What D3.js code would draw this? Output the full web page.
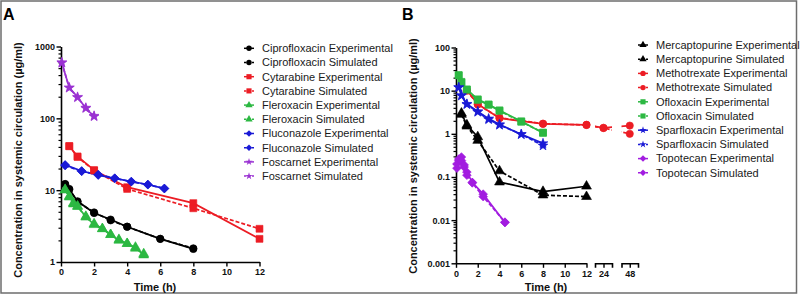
<!DOCTYPE html>
<html>
<head>
<meta charset="utf-8">
<script src="https://cdn.jsdelivr.net/npm/d3@7"></script>
<style>
  body { margin: 0; background: #fff; }
  svg { display: block; }
</style>
</head>
<body>
<script>
const width = 800;
const height = 296;

const black = "#000000";
const red = "#ec1c24";
const green = "#2cb842";
const blue = "#1a1ad6";
const purpleA = "#9a32d2";
const purpleB = "#a21ce0";

// ---- Panel A data ----
const cipTime = [0.25, 0.5, 1, 2, 3, 4, 6, 8];
const cipExp = [12, 10.4, 7, 4.8, 3.9, 3.1, 2.1, 1.52];
const cipSim = [12.2, 10.2, 6.9, 4.9, 3.8, 3.1, 2.1, 1.55];
const cytTime = [0.5, 1, 2, 4, 8, 12];
const cytExp = [41, 29.5, 19, 11, 6.6, 2.1];
const cytSim = [41, 29, 18.8, 10.4, 5.6, 2.9];
const fleTime = [0.25, 0.5, 0.75, 1, 1.5, 2, 2.5, 3, 3.5, 4, 4.5, 5];
const fleExp = [10.2, 8.2, 6.6, 5.9, 4.3, 3.3, 2.9, 2.4, 2.0, 1.8, 1.6, 1.25];
const fleSim = [10, 8, 6.4, 6.0, 4.2, 3.4, 2.9, 2.4, 2.05, 1.8, 1.55, 1.3];
const fluTime = [0.25, 1.25, 2.25, 3.25, 4.25, 5.25, 6.25];
const fluExp = [22.5, 18.5, 16.2, 14.6, 13.2, 12, 10.5];
const fluSim = [22, 18.3, 16.5, 14.7, 13.1, 11.9, 10.6];
const fosTime = [0.05, 0.5, 1, 1.5, 2];
const fosExp = [590, 268, 198, 138, 106];
const fosSim = [600, 265, 195, 140, 108];

// ---- Panel B data ----
const merTime = [0.5, 1, 2, 4, 8, 12];
const merExp = [3.0, 1.6, 0.85, 0.076, 0.046, 0.061];
const merSim = [2.8, 1.5, 0.7, 0.138, 0.038, 0.035];
const metTime = [1, 2, 4, 8, 12, 24, 48];
const metExp = [10.2, 4.9, 2.3, 1.7, 1.62, 1.38, 1.55];
const metSim = [10, 4.8, 2.35, 1.72, 1.6, 1.36, 1.0];
const oflTime = [0.25, 0.5, 1, 2, 3, 4, 6, 8];
const oflExp = [23, 16, 10.7, 6.3, 4.8, 3.5, 1.95, 1.05];
const oflSim = [22.5, 15.5, 10.5, 6.1, 4.7, 3.4, 1.9, 1.07];
const spaTime = [0.25, 0.5, 1, 2, 3, 4, 6, 8];
const spaExp = [12, 7.8, 4.9, 3.3, 2.25, 1.65, 0.97, 0.6];
const spaSim = [11.8, 7.6, 4.8, 3.2, 2.15, 1.6, 0.98, 0.53];
const topTime = [0.083, 0.25, 0.5, 0.75, 1, 1.5, 2.5, 4.5];
const topExp = [0.16, 0.24, 0.29, 0.17, 0.13, 0.075, 0.04, 0.0088];
const topSim = [0.2, 0.26, 0.24, 0.19, 0.11, 0.073, 0.035, 0.009];

const xTicksA = [0, 2, 4, 6, 8, 10, 12];
const yTicksA = [1, 10, 100, 1000];
const xTicksB = [0, 2, 4, 6, 8, 10, 12];
const xBreakTicksB = [24, 48];
const yTicksB = [0.001, 0.01, 0.1, 1, 10, 100];

function zip(t, v) { return t.map((d, i) => ({ t: d, v: v[i] })); }

const seriesA = [
  { name: "Ciprofloxacin Experimental", color: black, shape: "circle", dash: false, data: zip(cipTime, cipExp) },
  { name: "Ciprofloxacin Simulated", color: black, shape: "circle", dash: true, data: zip(cipTime, cipSim) },
  { name: "Cytarabine Experimental", color: red, shape: "square", dash: false, data: zip(cytTime, cytExp) },
  { name: "Cytarabine Simulated", color: red, shape: "square", dash: true, data: zip(cytTime, cytSim) },
  { name: "Fleroxacin Experimental", color: green, shape: "triangle", dash: false, data: zip(fleTime, fleExp) },
  { name: "Fleroxacin Simulated", color: green, shape: "triangle", dash: true, data: zip(fleTime, fleSim) },
  { name: "Fluconazole Experimental", color: blue, shape: "diamond", dash: false, data: zip(fluTime, fluExp) },
  { name: "Fluconazole Simulated", color: blue, shape: "diamond", dash: true, data: zip(fluTime, fluSim) },
  { name: "Foscarnet Experimental", color: purpleA, shape: "star", dash: false, data: zip(fosTime, fosExp) },
  { name: "Foscarnet Simulated", color: purpleA, shape: "star", dash: true, data: zip(fosTime, fosSim) }
];

const seriesB = [
  { name: "Mercaptopurine Experimental", color: black, shape: "triangle", dash: false, data: zip(merTime, merExp) },
  { name: "Mercaptopurine Simulated", color: black, shape: "triangle", dash: true, data: zip(merTime, merSim) },
  { name: "Methotrexate Experimental", color: red, shape: "circle", dash: false, data: zip(metTime, metExp) },
  { name: "Methotrexate Simulated", color: red, shape: "circle", dash: true, data: zip(metTime, metSim) },
  { name: "Ofloxacin Experimental", color: green, shape: "square", dash: false, data: zip(oflTime, oflExp) },
  { name: "Ofloxacin Simulated", color: green, shape: "square", dash: true, data: zip(oflTime, oflSim) },
  { name: "Sparfloxacin Experimental", color: blue, shape: "star", dash: false, data: zip(spaTime, spaExp) },
  { name: "Sparfloxacin Simulated", color: blue, shape: "star", dash: true, data: zip(spaTime, spaSim) },
  { name: "Topotecan Experimental", color: purpleB, shape: "diamond", dash: false, data: zip(topTime, topExp) },
  { name: "Topotecan Simulated", color: purpleB, shape: "diamond", dash: true, data: zip(topTime, topSim) }
];

const scaleA = {
  x: d3.scaleLinear().domain([0, 12]).range([61, 259.5]),
  y: d3.scaleLog().domain([1, 1000]).range([262, 46.5])
};

// panel B has a broken time axis: 0-12, then 24, then 48
const scaleB = {
  segs: [
    d3.scaleLinear().domain([0, 12]).range([456, 586.5]),
    d3.scaleLinear().domain([22, 26]).range([595, 612]),
    d3.scaleLinear().domain([46, 50]).range([621.5, 638])
  ],
  y: d3.scaleLog().domain([0.001, 100]).range([263.3, 47.5])
};
scaleB.x = function(t) {
  if (t <= 12) return scaleB.segs[0](t);
  if (t <= 30) return scaleB.segs[1](t);
  return scaleB.segs[2](t);
};

const symbols = {
  circle: { type: d3.symbolCircle, size: 42, rot: 0 },
  square: { type: d3.symbolSquare, size: 48, rot: 0 },
  triangle: { type: d3.symbolTriangle, size: 42, rot: 0 },
  diamond: { type: d3.symbolSquare, size: 38, rot: 45 },
  star: { type: d3.symbolStar, size: 30, rot: 0 }
};

const font = "Liberation Sans, Arial, sans-serif";

var svg = d3.select("body")
  .append("svg")
  .attr("width", width)
  .attr("height", height);

svg.append("rect")
  .attr("x", 1).attr("y", 1)
  .attr("width", 795.5).attr("height", 292)
  .attr("fill", "none")
  .attr("stroke", "#6d6d6d")
  .attr("stroke-width", 1.5);

const defs = svg.append("defs");

drawPanelA();
drawPanelB();

function symbolPath(shape, k) {
  const s = symbols[shape];
  return d3.symbol().type(s.type).size(s.size * (k || 1))();
}

function appendYAxis(g, y, x0, ticks, fmt) {
  const all = y.ticks().filter(v => v >= y.domain()[0] && v <= y.domain()[1]);
  const minor = all.filter(v => Math.abs(Math.log10(v) - Math.round(Math.log10(v))) > 1e-6);

  g.append("g")
    .attr("transform", `translate(${x0},0)`)
    .call(d3.axisLeft(y).tickValues(minor).tickSize(2.5).tickSizeOuter(0).tickFormat(""))
    .call(s => s.select(".domain").remove())
    .call(s => s.selectAll("line").attr("stroke-width", 1.2));

  const ax = g.append("g")
    .attr("transform", `translate(${x0},0)`)
    .call(d3.axisLeft(y).tickValues(ticks).tickSize(4.5).tickSizeOuter(0).tickFormat(fmt).tickPadding(1.5));
  styleAxis(ax);
}

function styleAxis(ax) {
  ax.select(".domain").attr("stroke-width", 1.6);
  ax.selectAll("line").attr("stroke-width", 1.4);
  ax.selectAll("text")
    .style("font-family", font)
    .style("font-weight", "bold")
    .style("font-size", "9px")
    .attr("fill", "#111");
}

function appendLabels(g, letter, lx, yCenter, yLabelX, timeX) {
  g.append("text")
    .attr("x", lx).attr("y", 20)
    .style("font-family", font)
    .style("font-weight", "bold")
    .style("font-size", "16px")
    .text(letter);

  g.append("text")
    .attr("transform", `translate(${yLabelX},${yCenter})rotate(-90)`)
    .attr("text-anchor", "middle")
    .style("font-family", font)
    .style("font-weight", "bold")
    .style("font-size", "11px")
    .attr("fill", "#111")
    .text("Concentration in systemic circulation (\u00b5g/ml)");

  g.append("text")
    .attr("x", timeX).attr("y", 291)
    .attr("text-anchor", "middle")
    .style("font-family", font)
    .style("font-weight", "bold")
    .style("font-size", "11px")
    .attr("fill", "#111")
    .text("Time (h)");
}

function mapSeries(g, series, xf, y, clipIds) {
  const line = d3.line().x(d => xf(d.t)).y(d => y(d.v));

  series.forEach(s => {
    (clipIds || [null]).forEach(id => {
      const p = g.append("path")
        .attr("d", line(s.data))
        .attr("fill", "none")
        .attr("stroke", s.color)
        .attr("stroke-width", 1.7)
        .attr("stroke-dasharray", s.dash ? "4,2" : null);
      if (id) p.attr("clip-path", `url(#${id})`);
    });
  });

  series.forEach(s => {
    g.selectAll(null)
      .data(s.data)
      .enter()
      .append("path")
      .attr("d", symbolPath(s.shape))
      .attr("transform", d => `translate(${xf(d.t)},${y(d.v)})rotate(${symbols[s.shape].rot})`)
      .attr("fill", s.color)
      .attr("stroke", s.color)
      .attr("stroke-width", 0.6);
  });
}

function appendLegend(g, series, x, y0, step) {
  const items = g.selectAll(null)
    .data(series)
    .enter()
    .append("g")
    .attr("transform", (d, i) => `translate(${x}, ${y0 + i * step})`);

  items.append("line")
    .attr("x1", -5).attr("x2", 5)
    .attr("stroke", d => d.color)
    .attr("stroke-width", 1.5)
    .attr("stroke-dasharray", d => d.dash ? "2.5,1.5" : null);

  items.append("path")
    .attr("d", d => symbolPath(d.shape, 0.55))
    .attr("transform", d => `rotate(${symbols[d.shape].rot})`)
    .attr("fill", d => d.color);

  items.append("text")
    .attr("x", 13)
    .attr("y", 3.8)
    .text(d => d.name)
    .style("font-size", "11px")
    .style("font-family", font)
    .attr("fill", "#1a1a1a");
}

function drawPanelA() {
  const g = svg.append("g");
  appendLabels(g, "A", 3, 160, 22, 155);

  const ax = g.append("g")
    .attr("transform", `translate(0,${scaleA.y(1)})`)
    .call(d3.axisBottom(scaleA.x).tickValues(xTicksA).tickSize(4.5).tickSizeOuter(0).tickPadding(2.5));
  styleAxis(ax);
  appendYAxis(g, scaleA.y, scaleA.x(0), yTicksA, d3.format("d"));

  mapSeries(g, seriesA, scaleA.x, scaleA.y, null);
  appendLegend(g, seriesA, 249, 48.3, 14.2);
}

function drawPanelB() {
  const g = svg.append("g");
  appendLabels(g, "B", 402, 156, 417, 546);

  const yBase = scaleB.y(0.001);
  const segTicks = [xTicksB, [xBreakTicksB[0]], [xBreakTicksB[1]]];
  scaleB.segs.forEach((sc, i) => {
    const ax = g.append("g")
      .attr("transform", `translate(0,${yBase})`)
      .call(d3.axisBottom(sc).tickValues(segTicks[i]).tickFormat(d3.format("d"))
        .tickSize(4.5).tickSizeOuter(i === 0 ? 0 : 4.5).tickPadding(2.5));
    styleAxis(ax);

    const r = sc.range();
    defs.append("clipPath")
      .attr("id", "segB" + i)
      .append("rect")
      .attr("x", r[0] - (i === 0 ? 10 : 0))
      .attr("y", 0)
      .attr("width", r[1] - r[0] + (i === 0 ? 10 : 0))
      .attr("height", height);
  });
  const yFmt = v => String(+v.toPrecision(1));
  appendYAxis(g, scaleB.y, scaleB.segs[0](0), yTicksB, yFmt);

  mapSeries(g, seriesB, scaleB.x, scaleB.y, ["segB0", "segB1", "segB2"]);
  appendLegend(g, seriesB, 643, 45, 14.2);
}
</script>
</body>
</html>
